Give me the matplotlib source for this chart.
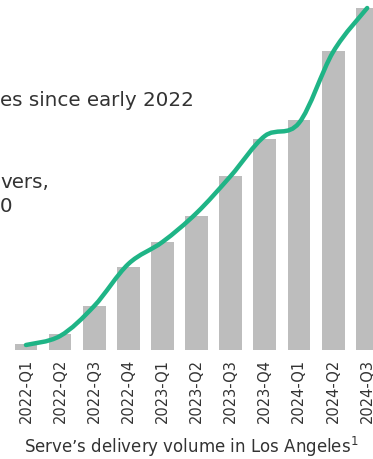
import matplotlib
matplotlib.use("Agg")
import matplotlib.pyplot as plt
from matplotlib.path import Path
from matplotlib.patches import PathPatch
import numpy as np

# quarters and delivery volume (arbitrary units)
quarters = ["2022-Q1", "2022-Q2", "2022-Q3", "2022-Q4",
            "2023-Q1", "2023-Q2", "2023-Q3", "2023-Q4",
            "2024-Q1", "2024-Q2", "2024-Q3"]
volume = [6, 16, 44, 83, 108, 134, 174, 211, 230, 299, 342]
trend = [5, 14, 44, 86, 108, 137, 174, 214, 227, 298, 342]

side_text = ["es since early 2022", "vers,", "0"]

GREY = "#bdbdbd"
GREEN = "#1fb486"
TXT = "#333333"

plt.rcParams["font.family"] = ["DejaVu Sans"]

fig = plt.figure(figsize=(3.73, 4.60), dpi=100)
ax = fig.add_axes([0, 109 / 460, 1, 351 / 460])

x = np.arange(len(quarters))
ax.bar(x, volume, width=0.67, color=GREY, zorder=1)

# smooth line (catmull-rom -> bezier segments)
pts = np.column_stack([x, trend]).astype(float)
verts = [tuple(pts[0])]
codes = [Path.MOVETO]
for i in range(len(pts) - 1):
    p0 = pts[i - 1] if i > 0 else pts[i]
    p1 = pts[i]
    p2 = pts[i + 1]
    p3 = pts[i + 2] if i + 2 < len(pts) else pts[i + 1]
    c1 = p1 + (p2 - p0) / 6
    c2 = p2 - (p3 - p1) / 6
    verts += [tuple(c1), tuple(c2), tuple(p2)]
    codes += [Path.CURVE4] * 3
ax.add_patch(PathPatch(Path(verts, codes), facecolor="none", edgecolor=GREEN,
                       lw=3.2, capstyle="round", zorder=3))

ax.set_xlim(-0.76, 10.17)
ax.set_ylim(0, 351)
ax.axis("off")

for i, q in enumerate(quarters):
    fig.text((26 + i * 34.1) / 373, 1 - 359 / 460, q, rotation=90, ha="center", va="top",
             fontsize=10.5, color=TXT)

fig.text(191 / 373, 1 - 453 / 460, "Serve\u2019s delivery volume in Los Angeles$^1$",
         ha="center", va="baseline", fontsize=12, color=TXT)

fig.text(0, 1 - 100 / 460, side_text[0], ha="left", va="center", fontsize=14.3, color=TXT)
fig.text(0, 1 - 183 / 460, side_text[1], ha="left", va="center", fontsize=14.3, color=TXT)
fig.text(0, 1 - 206 / 460, side_text[2], ha="left", va="center", fontsize=14.3, color=TXT)

fig.savefig("out.png", dpi=100)
